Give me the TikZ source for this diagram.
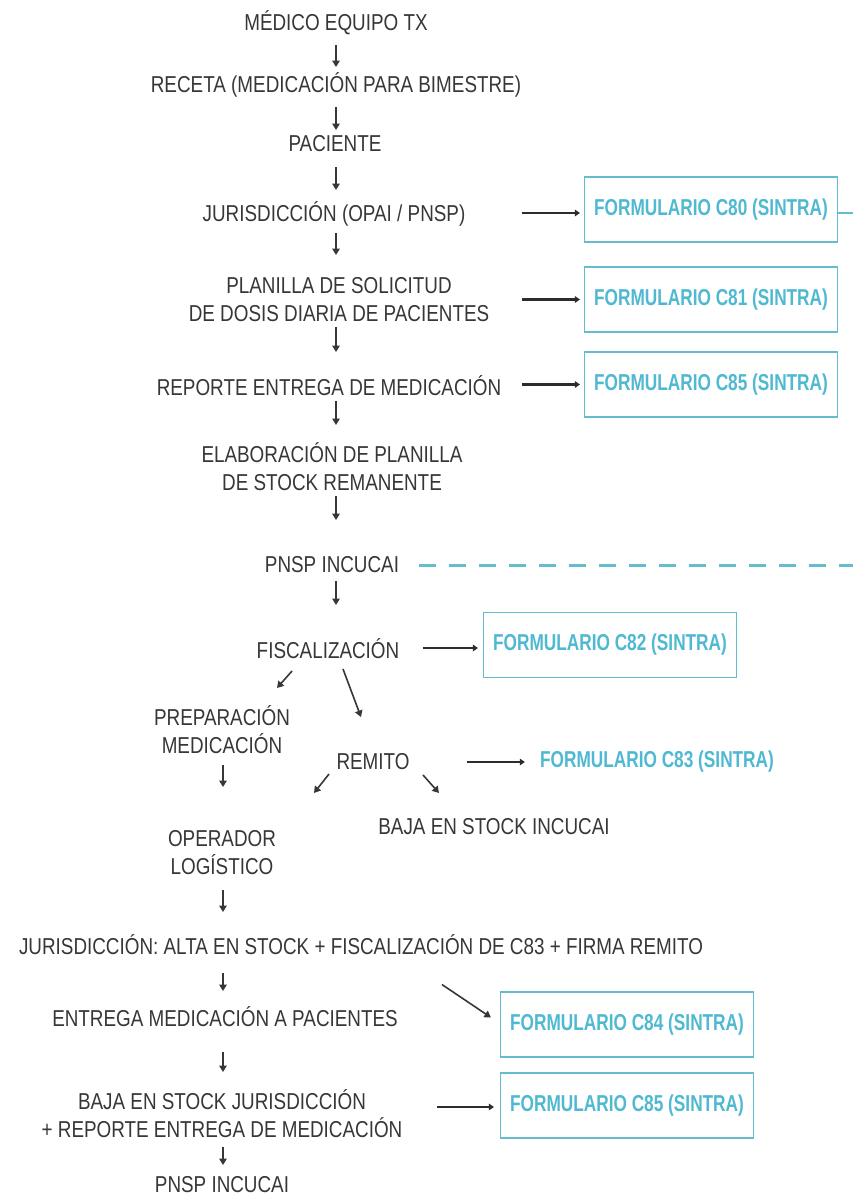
\documentclass[tikz,border=0pt]{standalone}
\usepackage{fontspec}
\setmainfont{Liberation Sans}
\usetikzlibrary{arrows.meta,calc}
\definecolor{txt}{RGB}{55,55,55}
\definecolor{tealt}{RGB}{80,185,210}
\definecolor{tealb}{RGB}{100,188,205}
\begin{document}
\begin{tikzpicture}[x=1pt,y=-1pt,
  tx/.style={text=txt, inner sep=0pt, align=center,
    font=\fontsize{23}{28}\selectfont\addfontfeature{FakeStretch=0.82}},
  form/.style={draw=tealb, line width=1.1pt, text=tealt, inner sep=0pt,
    minimum width=253pt, minimum height=65pt,
    font=\fontsize{23}{26}\selectfont\bfseries\addfontfeature{FakeStretch=0.75}},
  formtext/.style={text=tealt, inner sep=0pt,
    font=\fontsize{23}{26}\selectfont\bfseries\addfontfeature{FakeStretch=0.75}},
  arr/.style={draw=txt, line width=1.6pt, -{Triangle[length=6.5pt,width=7.5pt]}},
  harr/.style={draw=txt!80!black, line width=2.4pt, -{Triangle[length=5pt,width=6.5pt]}},
  tline/.style={draw=tealb, line width=2.6pt},
  dline/.style={draw=tealb, line width=3pt, dash pattern=on 17pt off 13pt},
]
\useasboundingbox (0,0) rectangle (853,1200);
\fill[white] (0,0) rectangle (853,1200);
\coordinate (spine) at (336,0);
\coordinate (spineb) at (223,0);
\coordinate (edge) at (853,0);

% main column
\node[tx] (medico)   at (336,23)  {MÉDICO EQUIPO TX};
\node[tx] (receta)   at (336,85)  {RECETA (MEDICACIÓN PARA BIMESTRE)};
\node[tx] (paciente) at (335,144) {PACIENTE};
\node[tx] (jur1)     at (334,214) {JURISDICCIÓN (OPAI / PNSP)};
\node[tx] (planilla) at (339,300) {PLANILLA DE SOLICITUD\\DE DOSIS DIARIA DE PACIENTES};
\node[tx] (reporte)  at (329,386) {REPORTE ENTREGA DE MEDICACIÓN};
\node[tx] (elab)     at (332,467) {ELABORACIÓN DE PLANILLA\\DE STOCK REMANENTE};
\node[tx] (pnsp1)    at (332,565) {PNSP INCUCAI};
\node[tx] (fisc)     at (328,649) {FISCALIZACIÓN};
\node[tx] (prep)     at (222,730) {PREPARACIÓN\\MEDICACIÓN};
\node[tx] (remito)   at (373,762) {REMITO};
\node[tx] (bajainc)  at (494,827) {BAJA EN STOCK INCUCAI};
\node[tx] (oper)     at (222,853) {OPERADOR\\LOGÍSTICO};
\node[tx] (jur2)     at (361,945) {JURISDICCIÓN: ALTA EN STOCK + FISCALIZACIÓN DE C83 + FIRMA REMITO};
\node[tx] (entrega)  at (225,1017) {ENTREGA MEDICACIÓN A PACIENTES};
\node[tx] (baja2)    at (222,1114) {BAJA EN STOCK JURISDICCIÓN\\+ REPORTE ENTREGA DE MEDICACIÓN};
\node[tx] (pnsp2)    at (222,1185) {PNSP INCUCAI};

% forms
\node[form] (c80)  at (711,209.5)  {FORMULARIO C80 (SINTRA)};
\node[form] (c81)  at (711,299.5)  {FORMULARIO C81 (SINTRA)};
\node[form] (c85a) at (711,384.5)  {FORMULARIO C85 (SINTRA)};
\node[form] (c82)  at (610,645)    {FORMULARIO C82 (SINTRA)};
\node[formtext] (c83) at (657,762) {FORMULARIO C83 (SINTRA)};
\node[form] (c84)  at (627,1024.5) {FORMULARIO C84 (SINTRA)};
\node[form] (c85b) at (627,1105.5) {FORMULARIO C85 (SINTRA)};

% vertical arrows (offsets from the node centres)
\draw[arr] ($(medico -| spine)+(0,22)$)   -- ($(receta -| spine)+(0,-18)$);
\draw[arr] ($(receta -| spine)+(0,22)$)   -- ($(paciente -| spine)+(0,-14)$);
\draw[arr] ($(paciente -| spine)+(0,23)$) -- ($(jur1 -| spine)+(0,-24)$);
\draw[arr] ($(jur1 -| spine)+(0,19)$)     -- ($(planilla -| spine)+(0,-45)$);
\draw[arr] ($(planilla -| spine)+(0,27)$) -- ($(reporte -| spine)+(0,-34)$);
\draw[arr] ($(reporte -| spine)+(0,15)$)  -- ($(elab -| spine)+(0,-42)$);
\draw[arr] ($(elab -| spine)+(0,29)$)     -- ($(pnsp1 -| spine)+(0,-45)$);
\draw[arr] ($(pnsp1 -| spine)+(0,16)$)    -- ($(fisc -| spine)+(0,-44)$);
\draw[arr] ($(prep -| spineb)+(0,35)$)    -- ($(oper -| spineb)+(0,-66)$);
\draw[arr] ($(oper -| spineb)+(0,37)$)    -- ($(jur2 -| spineb)+(0,-33)$);
\draw[arr] ($(jur2 -| spineb)+(0,28)$)    -- ($(entrega -| spineb)+(0,-26)$);
\draw[arr] ($(entrega -| spineb)+(0,35)$) -- ($(baja2 -| spineb)+(0,-42)$);
\draw[arr] ($(baja2 -| spineb)+(0,33)$)   -- ($(pnsp2 -| spineb)+(0,-20)$);

% diagonal arrows
\draw[arr] ($(fisc)+(-36,22)$) -- ($(fisc)+(-51,39)$);
\draw[arr] ($(fisc)+(15,20)$) -- ($(fisc)+(33,68)$);
\draw[arr] ($(remito)+(-44,12)$) -- ($(remito)+(-59,31)$);
\draw[arr] ($(remito)+(50,13)$) -- ($(remito)+(66,31)$);
\draw[arr] ($(c84.west)+(-58,-40)$) -- ($(c84.west)+(-9,-7)$);

% horizontal arrows
\draw[harr] ($(c80.west)+(-62,3.5)$) -- ($(c80.west)+(-4,3.5)$);
\draw[harr] ($(c81.west)+(-62,0)$) -- ($(c81.west)+(-4,0)$);
\draw[harr] ($(c85a.west)+(-62,0)$) -- ($(c85a.west)+(-4,0)$);
\draw[harr] ($(c82.west)+(-60,3)$) -- ($(c82.west)+(-5,3)$);
\draw[harr] ($(c83.west)+(-73,0)$) -- ($(c83.west)+(-15,0)$);
\draw[harr] ($(c85b.west)+(-63,1.5)$) -- ($(c85b.west)+(-6,1.5)$);

% teal links to the right edge
\draw[tline] ($(c80.east)+(0,3.5)$) -- ($(c80.east -| edge)+(0,3.5)$);
\draw[dline] ($(pnsp1.east)+(20,0)$) -- (pnsp1.east -| edge);
\end{tikzpicture}
\end{document}
